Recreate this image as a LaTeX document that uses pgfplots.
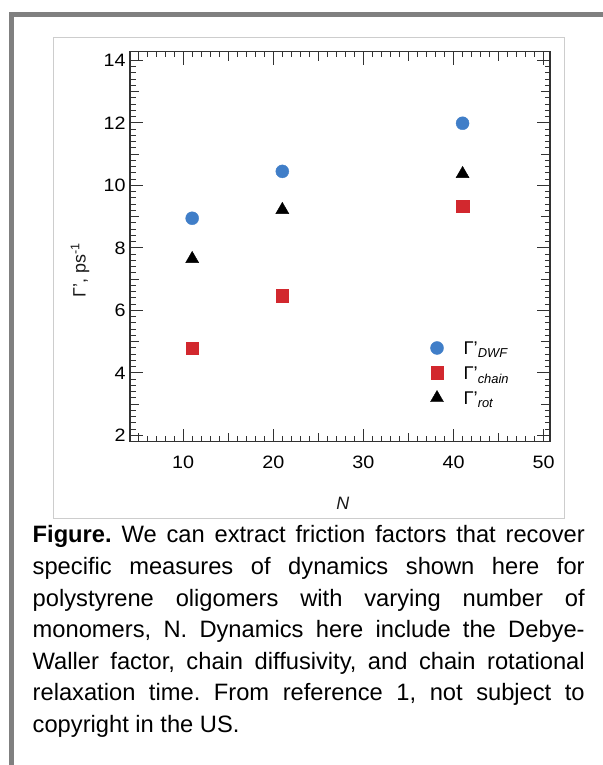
\documentclass[border=0pt]{standalone}
\usepackage{pgfplots}
\pgfplotsset{compat=1.18}
\usepackage{fontspec}
\setmainfont{Liberation Sans}
\newfontfamily\tickfont[FakeStretch=1.1]{Liberation Sans}

\definecolor{dwfblue}{RGB}{64,126,200}
\definecolor{chainred}{RGB}{210,40,46}
\definecolor{framegray}{RGB}{128,128,128}
\definecolor{boxgray}{RGB}{205,205,205}
\definecolor{axgray}{RGB}{50,50,50}

\begin{document}
\begin{tikzpicture}[x=1bp,y=1bp]
\useasboundingbox (0,0) rectangle (603,765);
% outer frame and inner box
\fill[framegray] (9,748) rectangle (603,753);
\fill[framegray] (9,0) rectangle (14,753);
\draw[boxgray, line width=0.8bp] (53.5,247) rectangle (564.5,728);

\begin{axis}[
    at={(130bp,323.3bp)}, anchor=south west,
    scale only axis, width=420bp, height=390bp,
    xmin=4.1, xmax=50.7, ymin=1.8, ymax=14.28,
    xtick={10,20,30,40,50}, ytick={2,4,...,14},
    minor xtick={5,6,...,50},
    minor ytick={2.2,2.4,...,14},
    extra x ticks={5,15,25,35,45}, extra x tick labels={},
    extra y ticks={3,5,7,9,11,13}, extra y tick labels={},
    extra tick style={major tick length=9bp},
    major tick length=13bp, minor tick length=5.5bp,
    tick align=inside, tick pos=both,
    axis line style={axgray, line width=1.2bp},
    every tick/.style={axgray, line width=1bp},
    /pgf/number format/assume math mode=true,
    tick label style={font=\tickfont\fontsize{18}{18}\selectfont, text=black},
    xticklabel style={yshift=-11bp},
    yticklabel style={xshift=-1bp},
    xlabel={\itshape N},
    ylabel={Γ’, ps\textsuperscript{-1}},
    label style={font=\fontsize{18}{18}\selectfont, text=black!90},
    xlabel style={at={(rel axis cs:0.507,-0.157)}, anchor=center},
    ylabel style={at={(rel axis cs:-0.119,0.44)}, anchor=center},
    legend style={at={(rel axis cs:0.7155,0.2723)}, anchor=north west,
        draw=none, fill=none, inner sep=0pt, outer sep=0pt,
        font=\fontsize{18.5}{18.5}\selectfont,
        nodes={inner sep=0pt, text height=19.5bp, text depth=5.5bp, anchor=base west},
        row sep=0pt,
        /tikz/every odd column/.append style={column sep=20bp}},
    legend cell align=left,
    legend image code/.code={\draw[#1] plot coordinates {(0bp,7bp)};},
]
\addplot[only marks, mark=*, mark size=6.5bp, draw=dwfblue, fill=dwfblue]
    coordinates {(11,8.95) (21,10.45) (41,11.99)};
\addlegendentry{Γ’\textsubscript{\itshape DWF}}
\addplot[only marks, mark=square*, mark size=6.3bp, draw=chainred, fill=chainred]
    coordinates {(11,4.79) (21,6.47) (41,9.34)};
\addlegendentry{Γ’\textsubscript{\itshape chain}}
\addplot[only marks, mark=triangle*, mark size=7.5bp, draw=black, fill=black]
    coordinates {(11,7.65) (21,9.22) (41,10.37)};
\addlegendentry{Γ’\textsubscript{\itshape rot}}
\end{axis}

% caption
\node[anchor=base west, inner sep=0pt] at (32.5,222) {\parbox[t]{552bp}{%
\fontsize{23.7bp}{31.6bp}\selectfont\frenchspacing
\textbf{Figure.} We can extract friction factors that recover\linebreak
specific measures of dynamics shown here for\linebreak
polystyrene oligomers with varying number of\linebreak
monomers, N. Dynamics here include the Debye-\linebreak
Waller factor, chain diffusivity, and chain rotational\linebreak
relaxation time. From reference 1, not subject to\linebreak
copyright in the US.}};
\end{tikzpicture}
\end{document}
